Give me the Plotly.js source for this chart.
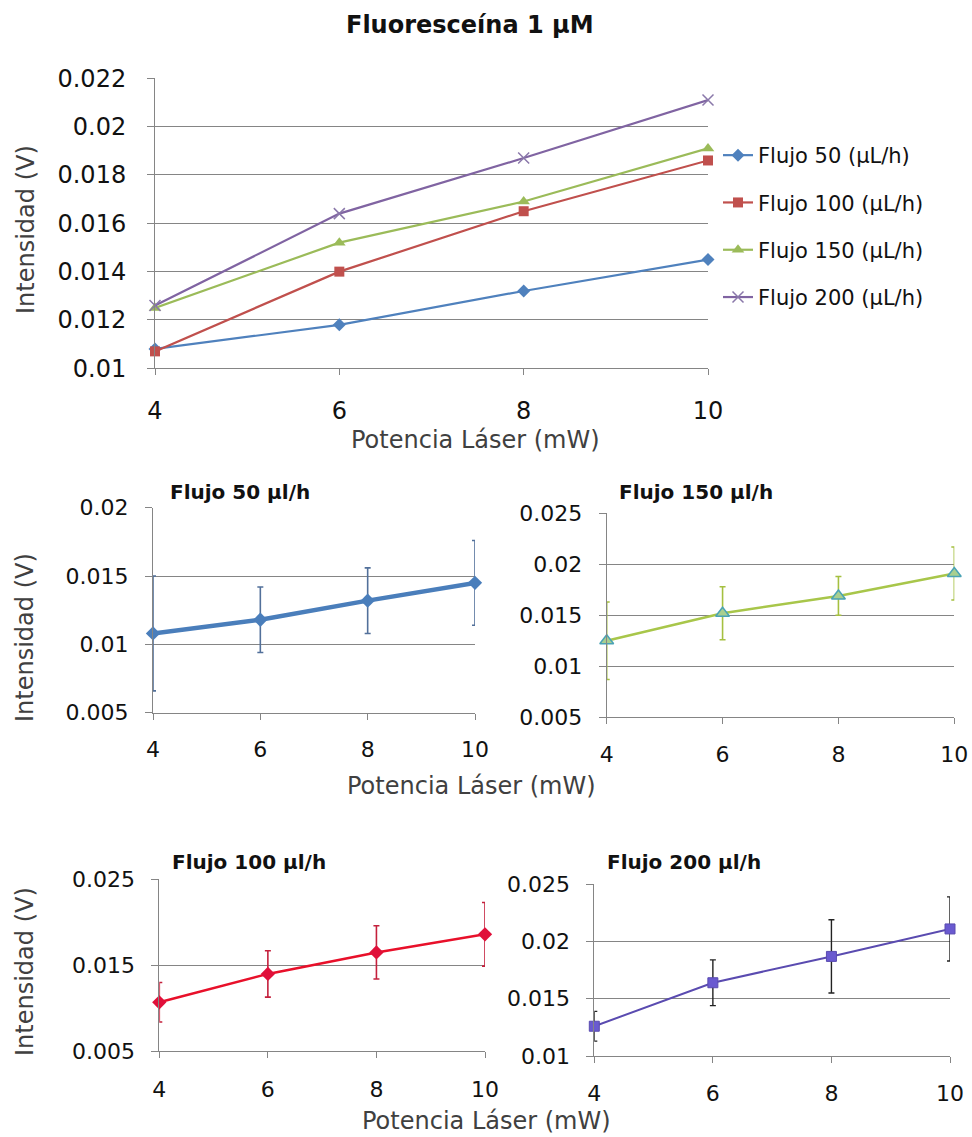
<!DOCTYPE html>
<html>
<head>
<meta charset="utf-8">
<script src="https://cdn.plot.ly/plotly-3.0.1.min.js"></script>
<style>html,body{margin:0;padding:0;background:#fff;}</style>
</head>
<body>
<div id="chart" style="width:972px;height:1137px;"></div>
<script>
// ---- data ----
const potencia = [4, 6, 8, 10];
const xTicks = [4, 6, 8, 10];
const flujo50  = [0.0108, 0.0118, 0.0132, 0.0145];
const flujo100 = [0.0107, 0.0140, 0.0165, 0.0186];
const flujo150 = [0.0125, 0.0152, 0.0169, 0.0191];
const flujo200 = [0.0126, 0.0164, 0.0187, 0.0211];
const err50  = [0.0042, 0.0024, 0.0024, 0.0031];
const err100 = [0.0023, 0.0027, 0.0031, 0.0037];
const err150 = [0.0038, 0.0026, 0.0019, 0.0026];
const err200 = [0.0013, 0.0020, 0.0032, 0.0028];
const legendNames = ['Flujo 50 (µL/h)', 'Flujo 100 (µL/h)', 'Flujo 150 (µL/h)', 'Flujo 200 (µL/h)'];
const subTitles = ['Flujo 50 µl/h', 'Flujo 150 µl/h', 'Flujo 100 µl/h', 'Flujo 200 µl/h'];
const mainTitle = 'Fluoresceína 1 µM';
const xTitle = 'Potencia Láser (mW)';
const yTitle = 'Intensidad (V)';

const W = 972, H = 1137;
const FONT = 'DejaVu Sans, Verdana, sans-serif';
const GRID = '#858585';

// ---- traces ----
const traces = [];
// main chart
traces.push({x: potencia, y: flujo50, name: legendNames[0], mode: 'lines+markers', legendgroup: 'a',
  line: {color: '#4f81bd', width: 2.2}, marker: {symbol: 'diamond', size: 10, color: '#4f81bd'}, cliponaxis: false});
traces.push({x: potencia, y: flujo100, name: legendNames[1], mode: 'lines+markers', legendgroup: 'b',
  line: {color: '#c0504d', width: 2.2}, marker: {symbol: 'square', size: 10, color: '#c0504d'}, cliponaxis: false});
traces.push({x: potencia, y: flujo150, name: legendNames[2], mode: 'lines+markers', legendgroup: 'c',
  line: {color: '#9bbb59', width: 2.2}, marker: {symbol: 'triangle-up', size: 11, color: '#9bbb59'}, cliponaxis: false});
traces.push({x: potencia, y: flujo200, name: legendNames[3], mode: 'lines+markers', legendgroup: 'd',
  line: {color: '#8064a2', width: 2.2}, marker: {symbol: 'x-thin', size: 11, line: {color: '#8a78aa', width: 1.5}, color: '#8a78aa'}, cliponaxis: false});

// subplots
traces.push({x: potencia, y: flujo50, xaxis: 'x2', yaxis: 'y2', mode: 'lines+markers', showlegend: false,
  line: {color: '#4a7ebb', width: 4.5}, marker: {symbol: 'diamond', size: 11, color: '#4a7ebb'},
  error_y: {type: 'data', array: err50, visible: true, color: '#52709a', thickness: 1.6, width: 3}, cliponaxis: false});
traces.push({x: potencia, y: flujo150, xaxis: 'x3', yaxis: 'y3', mode: 'lines+markers', showlegend: false,
  line: {color: '#a8c64a', width: 2.5}, marker: {symbol: 'triangle-up', size: 12, color: '#a9cf8f', line: {color: '#4aa3b5', width: 1.5}},
  error_y: {type: 'data', array: err150, visible: true, color: '#a5c040', thickness: 1.6, width: 3}, cliponaxis: false});
traces.push({x: potencia, y: flujo100, xaxis: 'x4', yaxis: 'y4', mode: 'lines+markers', showlegend: false,
  line: {color: '#e8102a', width: 2.5}, marker: {symbol: 'diamond', size: 11, color: '#e0103a'},
  error_y: {type: 'data', array: err100, visible: true, color: '#c4203c', thickness: 1.6, width: 3}, cliponaxis: false});
traces.push({x: potencia, y: flujo200, xaxis: 'x5', yaxis: 'y5', mode: 'lines+markers', showlegend: false,
  line: {color: '#5a4bb0', width: 2}, marker: {symbol: 'square', size: 10, color: '#6a5ad0', line: {color: '#5a4bb0', width: 1}},
  error_y: {type: 'data', array: err200, visible: true, color: '#222222', thickness: 1.4, width: 3}, cliponaxis: false});

// ---- axes ----
function px2x(a, b) { return [a / W, b / W]; }
function px2y(top, bottom) { return [1 - bottom / H, 1 - top / H]; }

function xAxis(dom, anchor, fs, standoff) {
  return {domain: dom, anchor: anchor, range: [4, 10], tickvals: xTicks, showgrid: false, zeroline: false,
    showline: true, linecolor: GRID, linewidth: 1, ticks: 'outside', ticklen: 6, tickcolor: GRID,
    ticklabelstandoff: standoff, tickfont: {family: FONT, size: fs, color: '#111'}};
}
function yAxis(dom, anchor, range, dtick, tick0, fs, standoff) {
  return {domain: dom, anchor: anchor, range: range, dtick: dtick, tick0: tick0, showgrid: true, gridcolor: GRID, gridwidth: 1,
    zeroline: false, showline: true, linecolor: GRID, linewidth: 1, ticks: 'outside', ticklen: 7, tickcolor: GRID,
    ticklabelstandoff: standoff, tickfont: {family: FONT, size: fs, color: '#111'}};
}

const eps = 1e-9;
const layout = {
  width: W, height: H, autosize: false,
  margin: {l: 0, r: 0, t: 0, b: 0},
  paper_bgcolor: '#fff', plot_bgcolor: '#fff',
  showlegend: true,
  legend: {x: 718 / W, y: 1 - 135 / H, xanchor: 'left', yanchor: 'top', traceorder: 'grouped', tracegroupgap: 17,
    font: {family: FONT, size: 21, color: '#111'}, bgcolor: 'rgba(0,0,0,0)'},
  xaxis:  xAxis(px2x(155, 708), 'y', 24, 15),
  yaxis:  yAxis(px2y(78.3, 368.3), 'x', [0.01 - eps, 0.022 + eps], 0.002, 0.01, 24, 16),
  xaxis2: xAxis(px2x(153, 475), 'y2', 22, 11),
  yaxis2: yAxis(px2y(507.7, 712.7), 'x2', [0.005 - eps, 0.02 + eps], 0.005, 0.005, 22, 12),
  xaxis3: xAxis(px2x(606.7, 954.3), 'y3', 22, 11),
  yaxis3: yAxis(px2y(513.3, 717.3), 'x3', [0.005 - eps, 0.025 + eps], 0.005, 0.005, 22, 12),
  xaxis4: xAxis(px2x(159.3, 485), 'y4', 22, 12),
  yaxis4: yAxis(px2y(879.3, 1051.3), 'x4', [0.005 - eps, 0.025 + eps], 0.01, 0.005, 22, 12),
  xaxis5: xAxis(px2x(594.3, 950), 'y5', 22, 12),
  yaxis5: yAxis(px2y(884.3, 1056), 'x5', [0.01 - eps, 0.025 + eps], 0.005, 0.01, 22, 12),
  annotations: []
};

function ann(text, xpx, ypx, size, opts) {
  return Object.assign({text: text, xref: 'paper', yref: 'paper', x: xpx / W, y: 1 - ypx / H,
    xanchor: 'center', yanchor: 'middle', showarrow: false,
    font: {family: FONT, size: size, color: '#404040'}}, opts || {});
}
layout.annotations.push(ann('<b>' + mainTitle + '</b>', 470, 25, 24, {font: {family: FONT, size: 24, color: '#111'}}));
layout.annotations.push(ann(xTitle, 475, 440, 24));
layout.annotations.push(ann(xTitle, 471, 786, 24));
layout.annotations.push(ann(xTitle, 487, 1121, 24));
layout.annotations.push(ann(yTitle, 26, 230, 24, {textangle: -90}));
layout.annotations.push(ann(yTitle, 25, 638, 24, {textangle: -90}));
layout.annotations.push(ann(yTitle, 25, 972, 24, {textangle: -90}));
const subPos = [[168, 492], [617, 492], [170, 862], [605, 862]];
subTitles.forEach((t, i) => {
  layout.annotations.push(ann('<b>' + t + '</b>', subPos[i][0], subPos[i][1], 20,
    {xanchor: 'left', font: {family: FONT, size: 20, color: '#111'}}));
});

Plotly.newPlot('chart', traces, layout, {staticPlot: true, displayModeBar: false});
</script>
</body>
</html>
